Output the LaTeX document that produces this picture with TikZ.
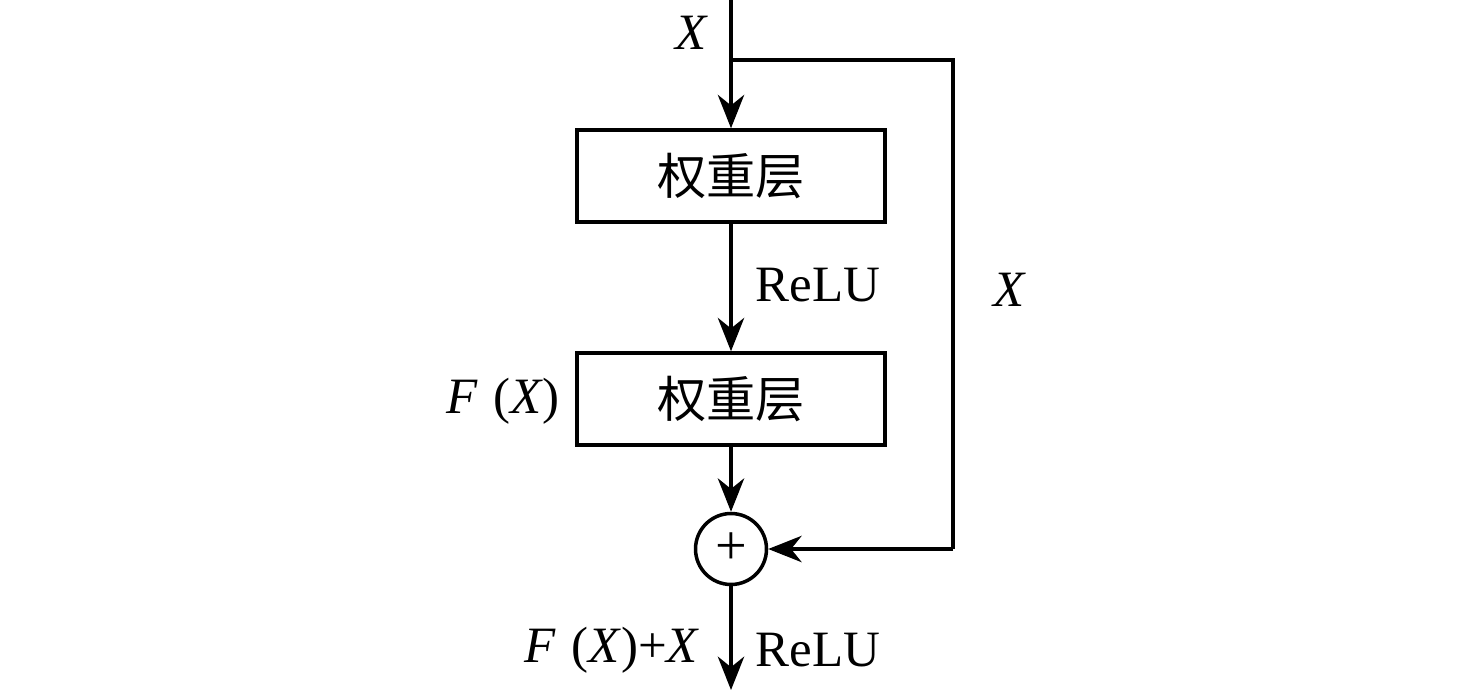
\documentclass[tikz,border=0pt]{standalone}
\usepackage{fontspec}
\setmainfont{Liberation Serif}
\newfontfamily\cjk{Noto Sans CJK SC}
\usetikzlibrary{arrows.meta}
\begin{document}
\begin{tikzpicture}[x=0.02cm,y=-0.02cm,
  every node/.style={font=\fontsize{29}{32}\selectfont},
  line/.style={line width=2pt},
  arr/.style={line, -{Stealth[length=19pt,width=15pt,inset=6pt]}},
  layer/.style={draw, line width=2pt, minimum width=6.16cm, minimum height=1.84cm, inner sep=0pt, font=\fontsize{28}{32}\selectfont\cjk},
  sum/.style={draw, circle, line width=2pt, minimum size=1.42cm, inner sep=0pt},
  lbl/.style={inner sep=0pt}]
\useasboundingbox (0,0) rectangle (1476,690);
\coordinate (in) at (731,0);
\coordinate (br) at (731,60);
\coordinate (c1) at (953,60);
\coordinate (c2) at (953,549);
\coordinate (out) at (731,690);
\node[layer] (b1) at (731,176) {权重层};
\node[layer] (b2) at (731,399) {权重层};
\node[sum] (s) at (731,549) {\fontsize{32}{32}\selectfont +};
\draw[arr] (in) -- (b1.north);
\draw[line] (br) -- (c1) -- (c2);
\draw[arr] (c2) -- (s.east);
\draw[arr] (b1.south) -- (b2.north);
\draw[arr] (b2.south) -- (s.north);
\draw[arr] (s.south) -- (out);
\node[lbl] (lx) at (692,33) {\textit{X}};
\node[lbl] (lx2) at (1010,290) {\textit{X}};
\node[lbl] (lr1) at (818,285) {ReLU};
\node[lbl] (lf) at (503,401) {\textit{F}\hspace{0.3em}(\textit{X})};
\node[lbl] (lfx) at (612,650) {\textit{F}\hspace{0.3em}(\textit{X})+\textit{X}};
\node[lbl] (lr2) at (818,650) {ReLU};
\end{tikzpicture}
\end{document}
